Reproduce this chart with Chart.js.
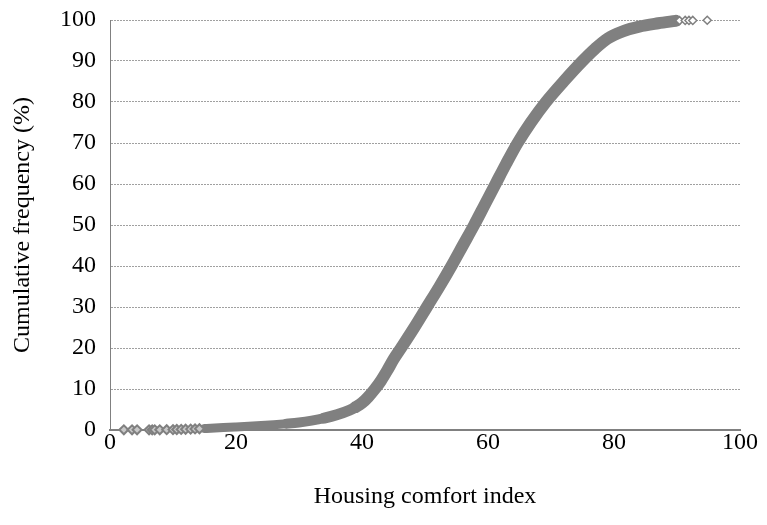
<!DOCTYPE html>
<html>
<head>
<meta charset="utf-8">
<script src="https://cdn.jsdelivr.net/npm/chart.js@4.4.1/dist/chart.umd.min.js"></script>
<style>
  body { margin: 0; background: #fff; }
  #wrap { width: 767px; height: 525px; }
</style>
</head>
<body>
<div id="wrap"><canvas id="cdfChart"></canvas></div>
<script>
// dense part of the curve (index, cumulative %)
const curveX = [15, 16, 18, 20, 22, 24, 26, 28, 30, 32, 34, 36, 38, 39, 40, 41, 42, 43, 44, 45, 46.2, 48.3, 50.3, 52.3, 54.2, 56, 57.8, 59.5, 61.2, 62.9, 64.7, 66.8, 69.2, 72, 75, 77, 79, 81.5, 84, 87, 89.8];
const curveY = [0.35, 0.45, 0.6, 0.75, 0.9, 1.1, 1.3, 1.55, 1.85, 2.3, 2.9, 3.7, 4.8, 5.6, 6.6, 8.1, 9.9, 12, 14.5, 17.2, 20, 25, 30, 35, 40, 45, 50, 55, 60, 65, 70, 75, 80, 85, 90, 93, 95.5, 97.3, 98.4, 99.2, 99.8];
// isolated markers at the low tail
const lowTailX = [2.2, 3.5, 4.3, 6.2, 6.7, 7.1, 7.9, 9.0, 10.0, 10.6, 11.3, 12.0, 12.8, 13.5, 14.2];
const lowTailY = [0.05, 0.05, 0.05, 0.05, 0.05, 0.05, 0.05, 0.08, 0.1, 0.12, 0.15, 0.18, 0.22, 0.26, 0.3];
// isolated markers at the high tail
const highTailX = [90.4, 91.3, 91.9, 92.5, 94.8];
const highTailY = [99.85, 99.9, 99.9, 99.9, 99.95];
const yTicks = [0, 10, 20, 30, 40, 50, 60, 70, 80, 90, 100];

const toPts = (xs, ys) => xs.map((x, i) => ({ x: x, y: ys[i] }));
const grey = '#808080';
const serif = "'Liberation Serif', 'Times New Roman', serif";

// line gets a little thicker where the points spread out
const widthAt = c => {
  const x = c.p0.parsed.x;
  if (x < 28) return 9;
  if (x < 34) return 10;
  if (x < 39) return 11;
  return 12;
};

const ctx = document.getElementById('cdfChart').getContext('2d');
const cdfChart = new Chart(ctx, {
  type: 'scatter',
  data: {
    datasets: [
      {
        label: 'low tail',
        data: toPts(lowTailX, lowTailY),
        pointStyle: 'rectRot',
        pointRadius: 4.5,
        pointBorderWidth: 2,
        pointBorderColor: grey,
        pointBackgroundColor: '#c8c8c8',
        showLine: false,
        clip: false,
      },
      {
        label: 'high tail',
        data: toPts(highTailX, highTailY),
        pointStyle: 'rectRot',
        pointRadius: 4,
        pointBorderWidth: 1.5,
        pointBorderColor: grey,
        pointBackgroundColor: '#ffffff',
        showLine: false,
        clip: false,
      },
      {
        label: 'curve',
        data: toPts(curveX, curveY),
        showLine: true,
        borderColor: grey,
        borderWidth: 12,
        borderCapStyle: 'round',
        borderJoinStyle: 'round',
        cubicInterpolationMode: 'monotone',
        segment: { borderWidth: widthAt },
        pointRadius: 0,
        clip: false,
      },
    ],
  },
  options: {
    responsive: true,
    maintainAspectRatio: false,
    animation: false,
    layout: { padding: { left: 0, right: 27, top: 20, bottom: 14 } },
    plugins: { legend: { display: false }, tooltip: { enabled: false } },
    scales: {
      x: {
        type: 'linear',
        min: 0,
        max: 100,
        afterFit: function (scale) { scale.height = 81; scale.paddingRight = 0; },
        ticks: { stepSize: 20, color: '#000', padding: -2, font: { family: serif, size: 24 } },
        grid: { display: false, drawTicks: false },
        border: { display: true, color: grey, width: 2 },
        title: { display: true, text: 'Housing comfort index', color: '#000', padding: 0, font: { family: serif, size: 24 } },
      },
      y: {
        min: 0,
        max: 100,
        afterFit: function (scale) { scale.width = 110; scale.paddingTop = 0; scale.paddingBottom = 0; },
        afterBuildTicks: function (scale) { scale.ticks = yTicks.map(v => ({ value: v })); },
        ticks: { color: '#000', padding: 14, font: { family: serif, size: 24 } },
        grid: { color: '#a0a0a0', lineWidth: 1, drawTicks: false },
        border: { display: true, color: grey, width: 1, dash: [2, 1] },
        title: { display: true, text: 'Cumulative frequency (%)', color: '#000', padding: { top: 8, bottom: 0 }, font: { family: serif, size: 24 } },
      },
    },
  },
});
</script>
</body>
</html>
